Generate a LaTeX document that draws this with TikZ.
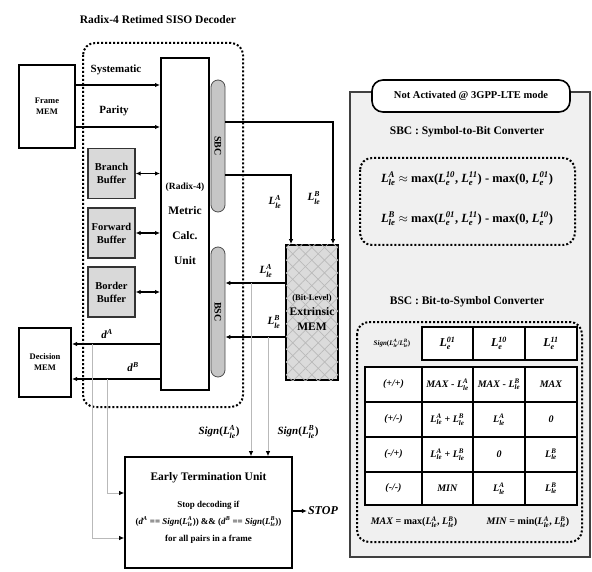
\documentclass[tikz,border=0pt]{standalone}
\usepackage{amsmath}
\usepackage{fontspec}
\setmainfont{Liberation Serif}
\usetikzlibrary{arrows.meta,patterns.meta,calc}
\newcommand{\LL}[2]{\textit{L}$_{\textit{#1}}^{\textit{#2}}$}
\begin{document}
\begin{tikzpicture}[x=1pt,y=-1pt,
  every node/.style={font=\fontsize{10}{11}\selectfont\bfseries, inner sep=1pt},
  box/.style={draw, line width=2pt, fill=white, align=center},
  buf/.style={draw=black!80, line width=1.3pt, fill=gray!30, align=center, minimum width=47pt, minimum height=50pt, font=\fontsize{10.5}{13}\selectfont\bfseries},
  pill/.style={draw=black!70, line width=0.8pt, fill=gray!45, rounded corners=7pt, minimum width=14pt, inner sep=0pt},
  tip/.style={-{Latex[length=5pt,width=4.5pt,color=black]}},
  arr/.style={tip, line width=1.3pt},
  darr/.style={{Latex[length=5pt,width=4.5pt]}-{Latex[length=5pt,width=4.5pt]}, line width=1.3pt},
  garr/.style={tip, line width=0.8pt, draw=gray!55},
  dotbox/.style={dash pattern=on 2pt off 2pt, line width=2pt, rounded corners=12pt},
  cell/.style={draw, line width=1.3pt, inner sep=0pt, fill=white, font=\fontsize{10}{11}\selectfont\bfseries},
  head/.style={font=\fontsize{11.5}{13}\selectfont\bfseries},
  lab/.style={font=\fontsize{11}{12}\selectfont\bfseries},
]
\useasboundingbox (0,0) rectangle (592,572);

% ---------------- left part ----------------
\node[head] (title) at (158,20) {Radix-4 Retimed SISO Decoder};
\draw[dotbox] (83,43) rectangle (243,407);

\node[box, minimum width=56pt, minimum height=83pt, font=\fontsize{8.5}{11}\selectfont\bfseries] (fm) at (47,106.5) {Frame\\MEM};
\node[box, minimum width=48pt, minimum height=332pt, font=\fontsize{11.5}{25}\selectfont\bfseries] (mc) at (185,224) {{\fontsize{9.5}{10}\selectfont(Radix-4)}\\Metric\\Calc.\\Unit};

\node[pill, minimum height=132pt] (sbc) at (218,146) {};
\node[rotate=-90, font=\fontsize{10}{11}\selectfont\bfseries] (sbct) at (sbc) {SBC};
\node[pill, minimum height=130pt] (bsc) at (218,312) {};
\node[rotate=-90, font=\fontsize{10}{11}\selectfont\bfseries] (bsct) at (bsc) {BSC};

\coordinate (ysys) at (0,85);
\coordinate (ypar) at (0,127);
\draw[arr] (fm.east |- ysys) -- (mc.west |- ysys);
\draw[arr] (fm.east |- ypar) -- (mc.west |- ypar);
\node[lab] (lsys) at (116,70) {Systematic};
\node[lab] (lpar) at (114,111) {Parity};

\node[buf] (bb) at (111.5,173.5) {Branch\\Buffer};
\node[buf] (fb) at (111.5,233) {Forward\\Buffer};
\node[buf] (ob) at (111.5,292) {Border\\Buffer};
\draw[darr] (bb.east) -- (mc.west |- bb.east);
\draw[darr] (fb.east) -- (mc.west |- fb.east);
\draw[darr] (ob.east) -- (mc.west |- ob.east);

\node[box, minimum width=52pt, minimum height=69pt, font=\fontsize{8.5}{11}\selectfont\bfseries] (dm) at (45,362.5) {Decision\\MEM};
\coordinate (da) at (92,344);
\coordinate (db) at (107,379);
\draw[arr] (mc.west |- da) -- (dm.east |- da);
\draw[arr] (mc.west |- db) -- (dm.east |- db);
\node[lab] (lda) at (107,334) {\textit{d}$^{\textit{A}}$};
\node[lab] (ldb) at (133,367) {\textit{d}$^{\textit{B}}$};

% Extrinsic MEM
\node[draw, line width=1.8pt, fill=gray!28, minimum width=52pt, minimum height=135pt, align=center,
  postaction={pattern={Lines[angle=45,distance=9pt,line width=0.7pt]}, pattern color=gray!55},
  postaction={pattern={Lines[angle=-45,distance=9pt,line width=0.7pt]}, pattern color=gray!55},
  font=\fontsize{11.5}{15}\selectfont\bfseries] (mem) at (312,312.5)
  {{\fontsize{8.5}{10}\selectfont(Bit-Level)}\\Extrinsic\\MEM};

\coordinate (ya) at (333,122);
\coordinate (yb) at (291,175);
\draw[arr] (sbc.east |- ya) -| (mem.north -| ya);
\draw[arr] (sbc.east |- yb) -| (mem.north -| yb);
\node[lab] (lsa) at (275,202) {\LL{le}{A}};
\node[lab] (lsb) at (314,198) {\LL{le}{B}};

\coordinate (ma) at (251,283);
\coordinate (mb) at (268,337);
\draw[arr] (mem.west |- ma) -- (bsc.east |- ma);
\draw[arr] (mem.west |- mb) -- (bsc.east |- mb);
\node[lab] (lba) at (266,271) {\LL{le}{A}};
\node[lab] (lbb) at (274,322) {\LL{le}{B}};

% Early termination unit
\node[draw, line width=1.8pt, fill=white, minimum width=167pt, minimum height=111pt] (etu) at (208.5,512.5) {};
\node[font=\fontsize{11.5}{12}\selectfont\bfseries] (etut) at (208.5,478) {Early Termination Unit};
\node[font=\fontsize{9}{17}\selectfont\bfseries, align=center] (etuc) at (208.5,522)
  {Stop decoding if\\(\textit{d}$^{\textit{A}}$ == \textit{Sign}(\LL{le}{A})) \&\& (\textit{d}$^{\textit{B}}$ == \textit{Sign}(\LL{le}{B}))\\for all pairs in a frame};

\draw[garr] (ma) -- (etu.north -| ma);
\draw[garr] (mb) -- (etu.north -| mb);
\node[lab] (sga) at (219,432) {\textit{Sign}(\LL{le}{A})};
\node[lab] (sgb) at (298,432) {\textit{Sign}(\LL{le}{B})};

\coordinate (ea) at (92,538);
\coordinate (eb) at (107,493);
\draw[garr] (da) |- (etu.west |- ea);
\draw[garr] (db) |- (etu.west |- eb);

\node[font=\fontsize{12}{13}\selectfont\bfseries] (stop) at (323,511) {\textit{STOP}};
\draw[arr] (etu.east |- stop) -- (stop.west);

% ---------------- right panel ----------------
\node[draw=black!75, line width=1.8pt, fill=gray!12, minimum width=240pt, minimum height=465pt] (panel) at (470,324.5) {};
\node[draw, line width=1.6pt, fill=white, rounded corners=11pt, minimum width=198pt, minimum height=32pt,
  font=\fontsize{10.5}{12}\selectfont\bfseries] (na) at (471,96) {Not Activated @ 3GPP-LTE mode};

\node[head] (sbch) at (467,132) {SBC : Symbol-to-Bit Converter};
\draw[dotbox] (360,158) rectangle (575,245);
\node[font=\fontsize{12.5}{13}\selectfont\bfseries] (f1) at (467,179)
  {\LL{le}{A} $\approx$ max(\LL{e}{10}, \LL{e}{11}) - max(0, \LL{e}{01})};
\node[font=\fontsize{12.5}{13}\selectfont\bfseries] (f2) at (467,219)
  {\LL{le}{B} $\approx$ max(\LL{e}{01}, \LL{e}{11}) - max(0, \LL{e}{10})};

\node[head] (bsch) at (467,302) {BSC : Bit-to-Symbol Converter};
\draw[dotbox] (357,322) rectangle (582,542);

% table header
\node[font=\fontsize{7}{8}\selectfont\bfseries] (h0) at (392,343.5) {\textit{Sign}(\LL{le}{A}/\LL{le}{B})};
\node[cell, minimum width=51pt, minimum height=33pt, font=\fontsize{12}{12}\selectfont\bfseries] (h1) at (447.5,343.5) {\LL{e}{01}};
\node[cell, minimum width=52pt, minimum height=33pt, font=\fontsize{12}{12}\selectfont\bfseries] (h2) at (499,343.5) {\LL{e}{10}};
\node[cell, minimum width=52pt, minimum height=33pt, font=\fontsize{12}{12}\selectfont\bfseries] (h3) at (551,343.5) {\LL{e}{11}};

% table body
\node[cell, minimum width=57pt, minimum height=35pt] (c1a) at (393.5,384.5) {\textit{(+/+)}};
\node[cell, minimum width=51pt, minimum height=35pt] (c1b) at (447.5,384.5) {\textit{MAX} - \LL{le}{A}};
\node[cell, minimum width=52pt, minimum height=35pt] (c1c) at (499,384.5) {\textit{MAX} - \LL{le}{B}};
\node[cell, minimum width=52pt, minimum height=35pt] (c1d) at (551,384.5) {\textit{MAX}};

\node[cell, minimum width=57pt, minimum height=35pt] (c2a) at (393.5,419.5) {\textit{(+/-)}};
\node[cell, minimum width=51pt, minimum height=35pt] (c2b) at (447.5,419.5) {\LL{le}{A} + \LL{le}{B}};
\node[cell, minimum width=52pt, minimum height=35pt] (c2c) at (499,419.5) {\LL{le}{A}};
\node[cell, minimum width=52pt, minimum height=35pt] (c2d) at (551,419.5) {\textit{0}};

\node[cell, minimum width=57pt, minimum height=35pt] (c3a) at (393.5,454.5) {\textit{(-/+)}};
\node[cell, minimum width=51pt, minimum height=35pt] (c3b) at (447.5,454.5) {\LL{le}{A} + \LL{le}{B}};
\node[cell, minimum width=52pt, minimum height=35pt] (c3c) at (499,454.5) {\textit{0}};
\node[cell, minimum width=52pt, minimum height=35pt] (c3d) at (551,454.5) {\LL{le}{B}};

\node[cell, minimum width=57pt, minimum height=33pt] (c4a) at (393.5,488.5) {\textit{(-/-)}};
\node[cell, minimum width=51pt, minimum height=33pt] (c4b) at (447.5,488.5) {\textit{MIN}};
\node[cell, minimum width=52pt, minimum height=33pt] (c4c) at (499,488.5) {\LL{le}{A}};
\node[cell, minimum width=52pt, minimum height=33pt] (c4d) at (551,488.5) {\LL{le}{B}};

\node[font=\fontsize{10}{11}\selectfont\bfseries] (mx) at (414,522) {\textit{MAX} = max(\LL{le}{A}, \LL{le}{B})};
\node[font=\fontsize{10}{11}\selectfont\bfseries] (mn) at (528,522) {\textit{MIN} = min(\LL{le}{A}, \LL{le}{B})};
\end{tikzpicture}
\end{document}
